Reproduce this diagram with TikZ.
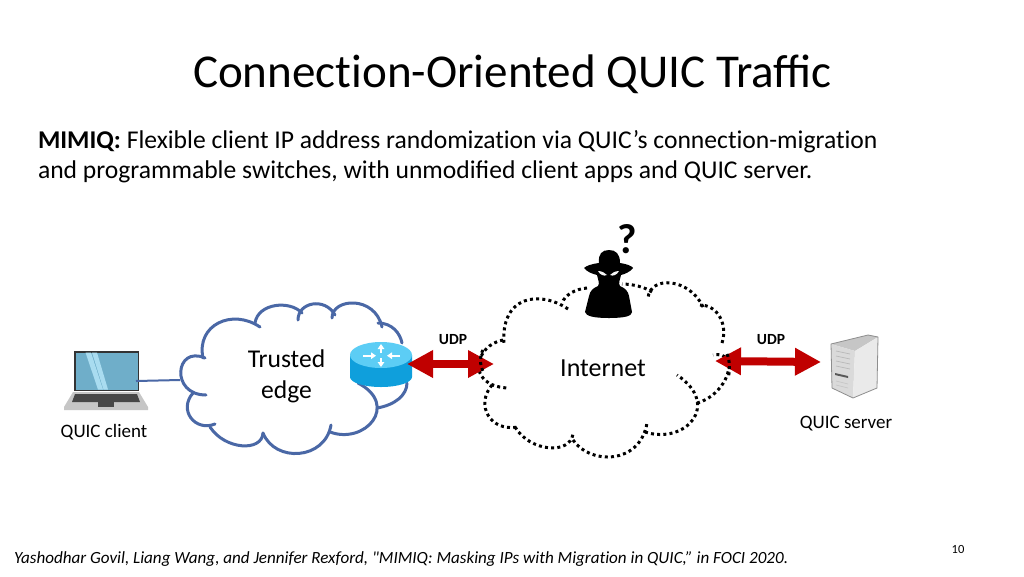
\documentclass[tikz,border=0pt]{standalone}
\usepackage{fontspec}
\setmainfont{Carlito}[Ligatures={TeXOff,NoCommon}]
\usetikzlibrary{arrows.meta}
\definecolor{cloudblue}{HTML}{4A68A6}
\definecolor{arrowred}{HTML}{C00000}
\definecolor{screenblue}{HTML}{6FAEC9}
\definecolor{screenglare}{HTML}{A9DCF0}
\definecolor{routerside}{HTML}{0F9FDC}
\definecolor{routertop}{HTML}{5CCDF5}
\definecolor{srvedge}{HTML}{8E8E8E}
\definecolor{srvtop}{HTML}{C6C6C6}
\definecolor{srvfront}{HTML}{DADADA}
\definecolor{srvside}{HTML}{EAEAEA}
\tikzset{
  txt/.style={inner sep=0pt,outer sep=0pt,text=black},
  edgelobe/.style={draw=cloudblue,line width=3pt,line cap=round},
  netlobe/.style={draw=black,line width=3pt,dash pattern=on 3pt off 3.2pt},
  link/.style={draw=cloudblue,line width=2pt},
  udparrow/.style={draw=arrowred,line width=8pt,{Triangle[length=26pt,width=26pt]}-{Triangle[length=26pt,width=26pt]}},
  whitearrow/.style={white,line width=1.8pt,-{Triangle[length=5pt,width=6.5pt]}},
}
\newcommand{\lobe}[5]{\draw[#1] #2 .. controls #3 and #4 .. #5;}
\newcommand{\fs}[1]{\fontsize{#1}{#1}\selectfont}
\begin{document}
\begin{tikzpicture}[x=1pt,y=-1pt]
\useasboundingbox (0,0) rectangle (1024,576);
\fill[white] (0,0) rectangle (1024,576);
% texts
\node[txt,anchor=base] (title) at (512.5,87) {\fs{47.1}Connection-Oriented QUIC Tra^^^^fb03c};
\node[txt,anchor=base west] (line1) at (38,148) {\fs{25.6}\textbf{MIMIQ:} Flexible client IP address randomization via QUIC’s connection-migration};
\node[txt,anchor=base west] (line2) at (38,178) {\fs{25.6}and programmable switches, with unmodi^^^^fb01ed client apps and QUIC server.};
\node[txt,anchor=base west] (cite) at (14,563) {\fs{17.07}\itshape Yashodhar Govil, Liang Wang, and Jennifer Rexford, "MIMIQ: Masking IPs with Migration in QUIC,” in FOCI 2020.};
\node[txt,anchor=base] (page) at (958,553) {\fs{12.5}10};
% trusted edge cloud
\lobe{edgelobe}{(203,358)}{(196,325)}{(232,308)}{(260,327)}
\lobe{edgelobe}{(255,323)}{(258,303)}{(290,300)}{(302,313)}
\lobe{edgelobe}{(298,320)}{(298,302)}{(325,297)}{(335,315)}
\lobe{edgelobe}{(332,318)}{(332,298)}{(375,295)}{(382,327)}
\lobe{edgelobe}{(378,323)}{(392,323)}{(400,333)}{(402,343)}
\lobe{edgelobe}{(205,358)}{(175,345)}{(170,395)}{(206,395)}
\lobe{edgelobe}{(193,393)}{(178,410)}{(195,432)}{(215,424)}
\lobe{edgelobe}{(210,427)}{(225,450)}{(262,452)}{(263,433)}
\lobe{edgelobe}{(263,433)}{(275,463)}{(325,460)}{(331,425)}
\lobe{edgelobe}{(330,432)}{(365,445)}{(400,405)}{(358,383)}
\lobe{edgelobe}{(377,408)}{(395,405)}{(407,395)}{(407,383)}
\coordinate (edgeport) at (180,380);
% internet cloud
\lobe{netlobe}{(503,340)}{(475,345)}{(465,385)}{(507,388)}
\lobe{netlobe}{(492,385)}{(475,405)}{(490,432)}{(518,427)}
\lobe{netlobe}{(515,427)}{(530,452)}{(570,455)}{(573,434)}
\lobe{netlobe}{(573,440)}{(590,465)}{(640,465)}{(647,423)}
\lobe{netlobe}{(645,432)}{(685,445)}{(722,405)}{(677,375)}
\lobe{netlobe}{(697,403)}{(728,395)}{(742,350)}{(713,355)}
\lobe{netlobe}{(722,343)}{(728,325)}{(718,305)}{(700,305)}
\lobe{netlobe}{(703,307)}{(690,278)}{(650,275)}{(648,298)}
\lobe{netlobe}{(652,292)}{(645,287)}{(632,284)}{(622,284)}
\lobe{netlobe}{(587,288)}{(575,289)}{(565,295)}{(562,303)}
\lobe{netlobe}{(568,309)}{(540,290)}{(500,295)}{(504,345)}
% hacker
\fill[black] (599,263) .. controls (598,254) and (602,250) .. (609,250) .. controls (616,250) and (620,254) .. (620,263)
  .. controls (627,264) and (632,266) .. (633,268) .. controls (630,272) and (625,274) .. (621,275)
  .. controls (620,280) and (618,283) .. (620,286) .. controls (625,288) and (628,291) .. (629,296)
  -- (632,312) .. controls (632,316) and (625,318) .. (609,318) .. controls (593,318) and (586,316) .. (585,312)
  -- (589,296) .. controls (590,291) and (593,288) .. (598,286) .. controls (600,283) and (598,280) .. (597,275)
  .. controls (593,274) and (587,272) .. (584,268) .. controls (586,266) and (591,264) .. (599,263) -- cycle;
\fill[white!92!gray] (598,271) .. controls (602,271) and (605,273) .. (607,275) .. controls (604,276.5) and (600,275) .. (598,271) -- cycle;
\fill[white!92!gray] (619,271) .. controls (615,271) and (612,273) .. (610,275) .. controls (613,276.5) and (617,275) .. (619,271) -- cycle;
\node[txt,anchor=base] (mark) at (627,253) {\fs{42}\textbf{?}};
% labels
\node[txt,anchor=base] (trusted) at (286.5,367) {\fs{25.6}Trusted};
\node[txt,anchor=base] (edge) at (286.5,398) {\fs{25.6}edge};
\node[txt,anchor=base] (internet) at (603,376) {\fs{26}Internet};
\node[txt,anchor=base] (udpa) at (453,344) {\fs{15.5}\textbf{UDP}};
\node[txt,anchor=base] (udpb) at (771,344) {\fs{15.5}\textbf{UDP}};
\node[txt,anchor=base] (client) at (104,437.5) {\fs{19}QUIC client};
\node[txt,anchor=base] (server) at (846,428.5) {\fs{19}QUIC server};
% laptop
\fill[gray!45] (73,392) -- (139,392) -- (148,407) -- (148,410) -- (64,410) -- (64,407) -- cycle;
\fill[black!72] (75,394) -- (137,394) -- (140,402) -- (72,402) -- cycle;
\fill[black!72] (98,402) rectangle (114,406.5);
\fill[black!80] (74,351) rectangle (139,391);
\fill[screenblue] (75.5,352.5) rectangle (137.5,389.5);
\fill[screenglare] (85.5,352.5) -- (91,352.5) -- (103,389.5) -- (98,389.5) -- cycle;
\fill[screenglare] (92,352.5) -- (97,352.5) -- (108,389.5) -- (103.5,389.5) -- cycle;
\coordinate (laptopport) at (136,381);
\draw[link] (laptopport) -- (edgeport);
% router
\fill[routerside] (350,355) -- (350,377) arc[start angle=180,end angle=360,x radius=31pt,y radius=10pt] -- (412,355) -- cycle;
\fill[routertop] (381,355) ellipse[x radius=31pt,y radius=13pt];
\coordinate (routerport) at (407,364);
\draw[whitearrow] (363,355.7) -- (376,355.7);
\draw[whitearrow] (400,355.7) -- (387,355.7);
\draw[whitearrow] (381,358) -- (381,367);
\draw[whitearrow] (381,353) -- (381,344);
% server
\fill[srvtop] (831,344) -- (868,335) -- (878,337) -- (855,351) -- cycle;
\fill[srvfront] (831,344) -- (855,351) -- (853,398) -- (832,388) -- cycle;
\fill[srvside] (855,351) -- (878,337) -- (877,388) -- (853,398) -- cycle;
\draw[srvedge,line width=0.8pt,line join=round] (831,344) -- (868,335) -- (878,337) -- (877,388) -- (853,398) -- (832,388) -- cycle;
\fill[black!65] (835,373) -- (848,376) -- (848,378) -- (835,375) -- cycle;
\foreach \y in {351,356,361,366}{\draw[gray!55,line width=0.7pt] (836,\y) -- (850,\y+3);}
\foreach \y in {381,385}{\draw[gray!45,line width=0.7pt] (836,\y) -- (848,\y+3);}
% arrows
\coordinate (neta) at (494,364);
\coordinate (netb) at (715,361);
\coordinate (serverport) at (821,362);
\draw[udparrow] (routerport) -- (neta);
\draw[udparrow] (netb) -- (serverport);
% dots over arrows
\lobe{netlobe}{(483,350)}{(480,355)}{(479,365)}{(484,373)}
\lobe{netlobe}{(727,354)}{(730,360)}{(730,372)}{(728,378)}
\end{tikzpicture}
\end{document}
